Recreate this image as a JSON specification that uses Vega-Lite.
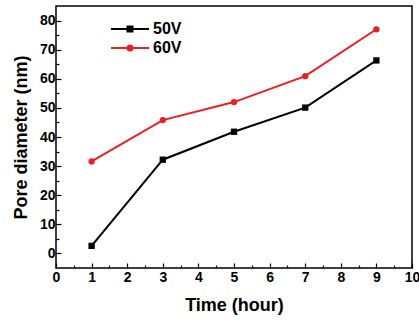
{
  "$schema": "https://vega.github.io/schema/vega-lite/v6.json",
  "width": 356,
  "height": 262,
  "autosize": {"type": "none"},
  "padding": {"left": 56, "top": 6, "right": 7, "bottom": 53},
  "background": "white",
  "config": {
    "view": {"stroke": "#000000", "strokeWidth": 1.5},
    "font": "Liberation Sans",
    "axis": {
      "domain": false,
      "grid": false,
      "labelFont": "Liberation Sans",
      "labelFontWeight": "bold",
      "labelFontSize": 14,
      "labelColor": "#000000",
      "tickColor": "#000000",
      "tickWidth": 1.2,
      "titleFont": "Liberation Sans",
      "titleFontWeight": "bold",
      "titleFontSize": 18,
      "titleColor": "#000000",
      "labelOverlap": false,
      "labelFlush": false
    }
  },
  "data": {
    "values": [
      {"time": 1, "diameter": 2.6, "series": "50V"},
      {"time": 3, "diameter": 32.2, "series": "50V"},
      {"time": 5, "diameter": 41.8, "series": "50V"},
      {"time": 7, "diameter": 50.1, "series": "50V"},
      {"time": 9, "diameter": 66.3, "series": "50V"},
      {"time": 1, "diameter": 31.6, "series": "60V"},
      {"time": 3, "diameter": 45.8, "series": "60V"},
      {"time": 5, "diameter": 52.0, "series": "60V"},
      {"time": 7, "diameter": 60.9, "series": "60V"},
      {"time": 9, "diameter": 77.0, "series": "60V"}
    ]
  },
  "encoding": {
    "x": {
      "field": "time",
      "type": "quantitative",
      "scale": {"domain": [0, 10], "nice": false, "zero": false},
      "axis": {
        "title": "Time (hour)",
        "values": [0, 0.5, 1, 1.5, 2, 2.5, 3, 3.5, 4, 4.5, 5, 5.5, 6, 6.5, 7, 7.5, 8, 8.5, 9, 9.5, 10],
        "labelExpr": "datum.value % 1 === 0 ? format(datum.value, 'd') : ''",
        "tickSize": {"condition": {"test": "datum.value % 1 === 0", "value": -5}, "value": -3},
        "labelPadding": 7,
        "titlePadding": 10
      }
    },
    "y": {
      "field": "diameter",
      "type": "quantitative",
      "scale": {"domain": [-5, 85], "nice": false, "zero": false},
      "axis": {
        "title": "Pore diameter (nm)",
        "values": [0, 5, 10, 15, 20, 25, 30, 35, 40, 45, 50, 55, 60, 65, 70, 75, 80],
        "labelExpr": "datum.value % 10 === 0 ? format(datum.value, 'd') : ''",
        "tickSize": {"condition": {"test": "datum.value % 10 === 0", "value": -5}, "value": -3},
        "labelPadding": 6,
        "titlePadding": 9
      }
    }
  },
  "layer": [
    {
      "mark": {"type": "line", "strokeWidth": 2},
      "encoding": {
        "color": {
          "field": "series", "type": "nominal",
          "scale": {"domain": ["50V", "60V"], "range": ["#000000", "#f01c24"]},
          "legend": null
        }
      }
    },
    {
      "mark": {"type": "point", "filled": true, "opacity": 1, "size": 40},
      "encoding": {
        "color": {
          "field": "series", "type": "nominal",
          "scale": {"domain": ["50V", "60V"], "range": ["#000000", "#f01c24"]},
          "legend": null
        },
        "shape": {
          "field": "series", "type": "nominal",
          "scale": {"domain": ["50V", "60V"], "range": ["square", "circle"]},
          "legend": null
        }
      }
    },
    {
      "transform": [{"filter": "false"}],
      "mark": {"type": "point", "filled": false, "strokeWidth": 2, "opacity": 1},
      "encoding": {
        "color": {
          "field": "series", "type": "nominal",
          "scale": {"domain": ["50V", "60V"], "range": ["#000000", "#f01c24"]},
          "legend": {
            "title": null,
            "orient": "none",
            "legendX": 66,
            "legendY": 15,
            "padding": 0,
            "symbolSize": 100,
            "symbolStrokeWidth": 2,
            "labelOffset": 15,
            "labelFont": "Liberation Sans",
            "labelFontWeight": "bold",
            "labelFontSize": 16,
            "labelColor": "#000000",
            "rowPadding": 3
          }
        },
        "shape": {
          "field": "series", "type": "nominal",
          "scale": {
            "domain": ["50V", "60V"],
            "range": [
              "M-3.8,0H3.8M-0.5,-0.5H0.5V0.5H-0.5ZM-0.5,-0.2H0.5M-0.5,0.2H0.5",
              "M-3.8,0H3.8M0.5,0A0.5,0.5 0 1,1 -0.5,0A0.5,0.5 0 1,1 0.5,0ZM0,-0.3V0.3"
            ]
          },
          "legend": {
            "title": null,
            "orient": "none",
            "legendX": 66,
            "legendY": 15,
            "padding": 0,
            "symbolSize": 100,
            "symbolStrokeWidth": 2,
            "labelOffset": 15,
            "labelFont": "Liberation Sans",
            "labelFontWeight": "bold",
            "labelFontSize": 16,
            "labelColor": "#000000",
            "rowPadding": 3
          }
        }
      }
    }
  ],
  "resolve": {"scale": {"color": "independent", "shape": "independent"}}
}
